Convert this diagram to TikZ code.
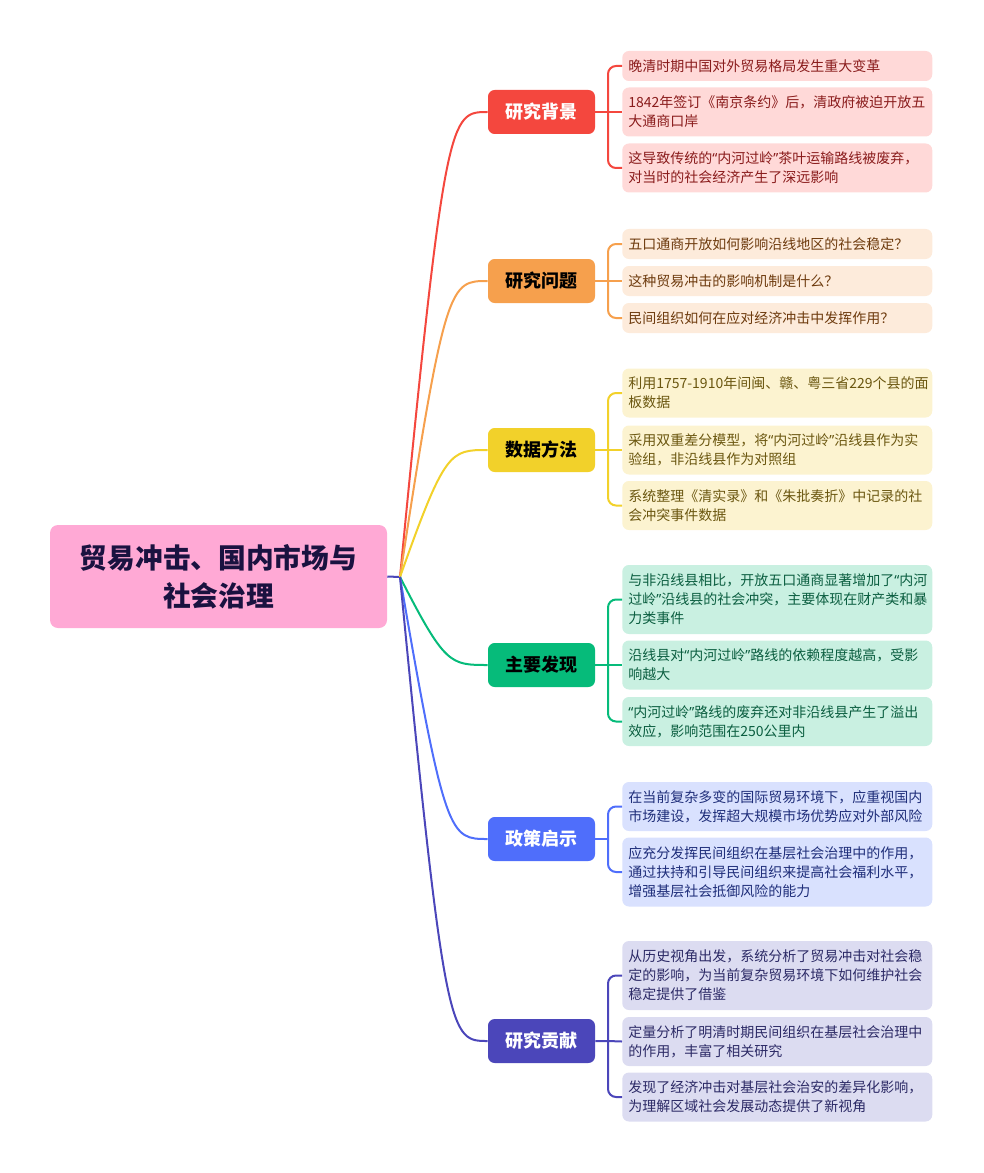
\documentclass[tikz,border=0pt]{standalone}
\usepackage{fontspec}
\setmainfont{Noto Sans CJK SC}
\newfontfamily\quotefont{Noto Sans}
\usetikzlibrary{positioning}
\usepackage{xcolor}

\newcommand\qopen{{\quotefont “}}
\newcommand\qclose{{\quotefont ”}}

\definecolor{rootpink}{HTML}{FFA9D5}
\definecolor{rootink}{HTML}{1A1240}
\definecolor{cRed}{HTML}{F4473E}
\definecolor{cOrange}{HTML}{F6A04D}
\definecolor{cYellow}{HTML}{F2D12A}
\definecolor{cGreen}{HTML}{06BB7A}
\definecolor{cBlue}{HTML}{4F6EFB}
\definecolor{cIndigo}{HTML}{4B46BA}
\definecolor{fRed}{HTML}{FFD9D8}
\definecolor{fOrange}{HTML}{FDEBDB}
\definecolor{fYellow}{HTML}{FCF3D0}
\definecolor{fGreen}{HTML}{C9F0E1}
\definecolor{fBlue}{HTML}{D9E1FE}
\definecolor{fIndigo}{HTML}{DCDCF1}
\definecolor{tRed}{HTML}{8A1C1C}
\definecolor{tOrange}{HTML}{6E3B0E}
\definecolor{tYellow}{HTML}{6B5710}
\definecolor{tGreen}{HTML}{0B5E40}
\definecolor{tBlue}{HTML}{1F2E7A}
\definecolor{tIndigo}{HTML}{2C2A66}

\begin{document}
\begin{tikzpicture}[x=0.75pt, y=-0.75pt,
        root/.style={rectangle, rounded corners=6pt, fill=rootpink, text=rootink, minimum width=252.75pt, minimum height=77.25pt, align=center, font=\fontsize{20.8}{28.5}\selectfont\bfseries},
        topic/.style={rectangle, rounded corners=5pt, minimum width=80.25pt, minimum height=33pt, font=\fontsize{13.5}{16}\selectfont\bfseries},
        leaf/.style 2 args={rectangle, rounded corners=5pt, fill=#1, text=#2, anchor=west, minimum width=232.5pt, text width=223.5pt, inner xsep=4.5pt, inner ysep=2pt, align=left, font=\fontsize{10.5}{14.25}\selectfont},
        line1/.style={minimum height=22.5pt},
        line2/.style={minimum height=36.75pt},
        line3/.style={minimum height=51.75pt},
        curve/.style={line width=1.5pt},
        bracket/.style={line width=1.5pt, rounded corners=6pt}
    ]
        \useasboundingbox (0,0) rectangle (983,1173);

        % Root
        \node[root] (root) at (218.5,576.5) {贸易冲击、国内市场与\\社会治理};
        \coordinate (hub) at (400,577);

        % Topics
        \node[topic, fill=cRed, text=white] (b1) at (541.5,112) {研究背景};
        \node[topic, fill=cOrange, text=black] (b2) at (541.5,281) {研究问题};
        \node[topic, fill=cYellow, text=black] (b3) at (541.5,450) {数据方法};
        \node[topic, fill=cGreen, text=black] (b4) at (541.5,665) {主要发现};
        \node[topic, fill=cBlue, text=white] (b5) at (541.5,839) {政策启示};
        \node[topic, fill=cIndigo, text=white] (b6) at (541.5,1041) {研究贡献};

        % Leaves
        \node[leaf={fRed}{tRed}, line1] (l11) at (622,66) {晚清时期中国对外贸易格局发生重大变革};
        \node[leaf={fRed}{tRed}, line2] (l12) at (622,112) {1842年签订《南京条约》后，清政府被迫开放五\\大通商口岸};
        \node[leaf={fRed}{tRed}, line2] (l13) at (622,168) {这导致传统的\qopen 内河过岭\qclose 茶叶运输路线被废弃，\\对当时的社会经济产生了深远影响};

        \node[leaf={fOrange}{tOrange}, line1] (l21) at (622,244) {五口通商开放如何影响沿线地区的社会稳定？};
        \node[leaf={fOrange}{tOrange}, line1] (l22) at (622,281) {这种贸易冲击的影响机制是什么？};
        \node[leaf={fOrange}{tOrange}, line1] (l23) at (622,318) {民间组织如何在应对经济冲击中发挥作用？};

        \node[leaf={fYellow}{tYellow}, line2] (l31) at (622,393) {利用\mbox{1757-1910}年间闽、赣、粤三省229个县的面\\板数据};
        \node[leaf={fYellow}{tYellow}, line2] (l32) at (622,450) {采用双重差分模型，将\qopen 内河过岭\qclose 沿线县作为实\\验组，非沿线县作为对照组};
        \node[leaf={fYellow}{tYellow}, line2] (l33) at (622,505.5) {系统整理《清实录》和《朱批奏折》中记录的社\\会冲突事件数据};

        \node[leaf={fGreen}{tGreen}, line3] (l41) at (622,599.5) {与非沿线县相比，开放五口通商显著增加了\qopen 内河\\过岭\qclose 沿线县的社会冲突，主要体现在财产类和暴\\力类事件};
        \node[leaf={fGreen}{tGreen}, line2] (l42) at (622,665) {沿线县对\qopen 内河过岭\qclose 路线的依赖程度越高，受影\\响越大};
        \node[leaf={fGreen}{tGreen}, line2] (l43) at (622,721.5) {\qopen 内河过岭\qclose 路线的废弃还对非沿线县产生了溢出\\效应，影响范围在250公里内};

        \node[leaf={fBlue}{tBlue}, line2] (l51) at (622,806.5) {在当前复杂多变的国际贸易环境下，应重视国内\\市场建设，发挥超大规模市场优势应对外部风险};
        \node[leaf={fBlue}{tBlue}, line3] (l52) at (622,872) {应充分发挥民间组织在基层社会治理中的作用，\\通过扶持和引导民间组织来提高社会福利水平，\\增强基层社会抵御风险的能力};

        \node[leaf={fIndigo}{tIndigo}, line3] (l61) at (622,975.5) {从历史视角出发，系统分析了贸易冲击对社会稳\\定的影响，为当前复杂贸易环境下如何维护社会\\稳定提供了借鉴};
        \node[leaf={fIndigo}{tIndigo}, line2] (l62) at (622,1041.5) {定量分析了明清时期民间组织在基层社会治理中\\的作用，丰富了相关研究};
        \node[leaf={fIndigo}{tIndigo}, line2] (l63) at (622,1097) {发现了经济冲击对基层社会治安的差异化影响，\\为理解区域社会发展动态提供了新视角};

        % Spines
        \coordinate (s1) at (608,112);
        \coordinate (s2) at (608,281);
        \coordinate (s3) at (608,450);
        \coordinate (s4) at (608,665);
        \coordinate (s5) at (608,839);
        \coordinate (s6) at (608,1041);

        % Root to topics
        \draw[curve, cIndigo] (root.east) -- (hub);
        \draw[curve, cRed] (hub) .. controls (445,112) and (450,112) .. (b1.west);
        \draw[curve, cOrange] (hub) .. controls (445,281) and (450,281) .. (b2.west);
        \draw[curve, cYellow] (hub) .. controls (445,450) and (450,450) .. (b3.west);
        \draw[curve, cGreen] (hub) .. controls (445,665) and (450,665) .. (b4.west);
        \draw[curve, cBlue] (hub) .. controls (445,839) and (450,839) .. (b5.west);
        \draw[curve, cIndigo] (hub) .. controls (445,1041) and (450,1041) .. (b6.west);

        % Topics to leaves
        \draw[curve, cRed] (b1.east) -- (s1) -- (l12.west);
        \draw[bracket, cRed] (l11.west) -| (s1) |- (l13.west);
        \draw[curve, cOrange] (b2.east) -- (s2) -- (l22.west);
        \draw[bracket, cOrange] (l21.west) -| (s2) |- (l23.west);
        \draw[curve, cYellow] (b3.east) -- (s3) -- (l32.west);
        \draw[bracket, cYellow] (l31.west) -| (s3) |- (l33.west);
        \draw[curve, cGreen] (b4.east) -- (s4) -- (l42.west);
        \draw[bracket, cGreen] (l41.west) -| (s4) |- (l43.west);
        \draw[curve, cBlue] (b5.east) -- (s5);
        \draw[bracket, cBlue] (l51.west) -| (s5) |- (l52.west);
        \draw[curve, cIndigo] (b6.east) -- (s6) -- (l62.west);
        \draw[bracket, cIndigo] (l61.west) -| (s6) |- (l63.west);
    \end{tikzpicture}
\end{document}
